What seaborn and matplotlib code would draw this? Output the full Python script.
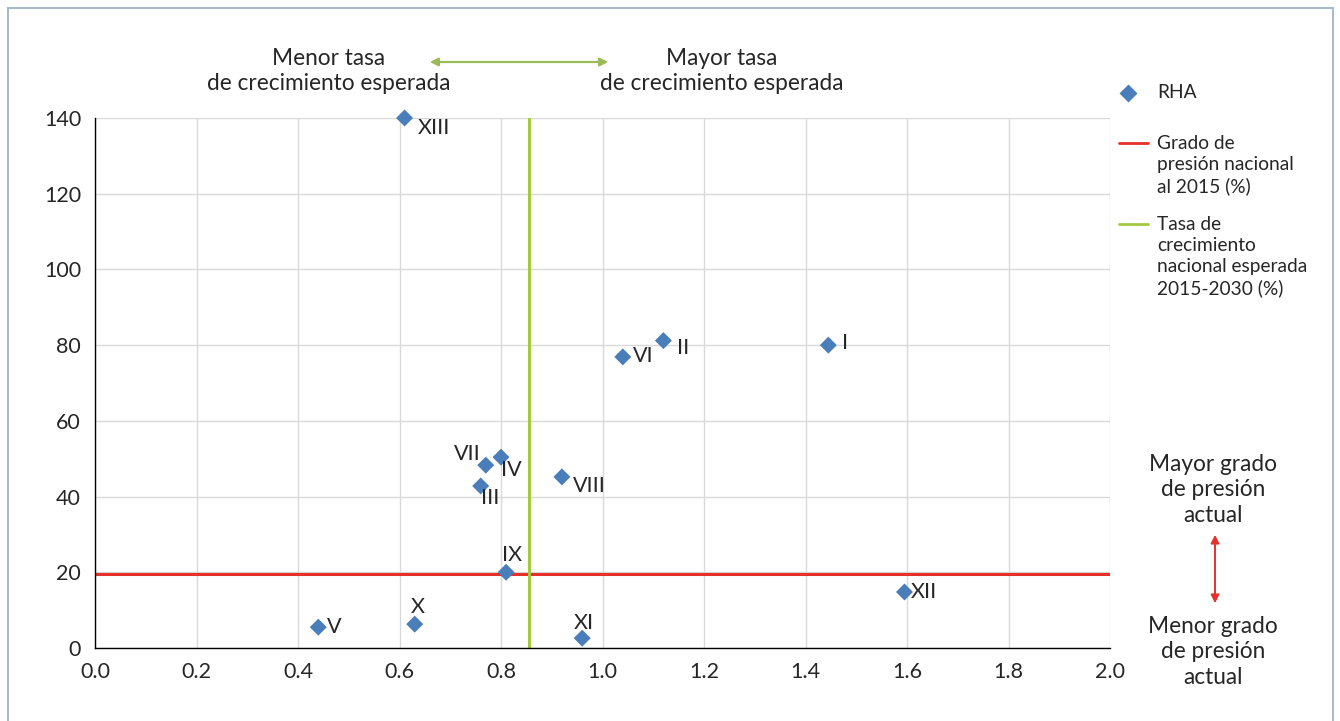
import numpy as np
import pandas as pd
import matplotlib
matplotlib.use("Agg")
import matplotlib.pyplot as plt
from matplotlib.lines import Line2D
from matplotlib.patches import Rectangle, FancyArrowPatch
import seaborn as sns

# ---- data ----
regions = ["I", "II", "III", "IV", "V", "VI", "VII", "VIII", "IX", "X", "XI", "XII", "XIII"]
growth = [1.445, 1.12, 0.76, 0.80, 0.44, 1.04, 0.77, 0.92, 0.81, 0.63, 0.96, 1.595, 0.61]
pressure = [80.0, 81.2, 42.8, 50.4, 5.5, 76.9, 48.3, 45.2, 20.0, 6.3, 2.6, 14.8, 140.0]
national_pressure = 19.5
national_growth = 0.855
x_ticks = [0.0, 0.2, 0.4, 0.6, 0.8, 1.0, 1.2, 1.4, 1.6, 1.8, 2.0]
y_ticks = [0, 20, 40, 60, 80, 100, 120, 140]

# label offsets in pixels (dx, dy upward), alignment
label_layout = {
    "I": (14, 2, "left"), "II": (14, -7, "left"), "III": (0, -12, "left"),
    "IV": (0, -13, "left"), "V": (9, 0, "left"), "VI": (10, 1, "left"),
    "VII": (-5, 11, "right"), "VIII": (11, -9, "left"), "IX": (6, 17, "center"),
    "X": (3, 17, "center"), "XI": (2, 15, "center"), "XII": (6, 0, "left"),
    "XIII": (13, -10, "left"),
}

W, H = 1340, 721
sns.set_style("white")
plt.rcParams['font.family'] = ['Lato', 'DejaVu Sans']

fig = plt.figure(figsize=(W / 100, H / 100), dpi=100)
ax = fig.add_axes([95 / W, 1 - 648 / H, (1110 - 95) / W, (648 - 118) / H])

def fx(px):
    return px / W

def fy(py):
    return 1 - py / H

TXT = "#262626"
df = pd.DataFrame({"region": regions, "growth": growth, "pressure": pressure})

ax.set_xlim(0, 2.0)
ax.set_ylim(0, 140)
ax.set_xticks(x_ticks)
ax.set_yticks(y_ticks)
ax.set_xticklabels([f"{v:.1f}" for v in x_ticks])
ax.set_yticklabels([str(v) for v in y_ticks])
ax.grid(True, color="#D9D9D9", lw=1.0, zorder=0)
ax.set_axisbelow(True)
for s in ["top", "right"]:
    ax.spines[s].set_visible(False)
for s in ["left", "bottom"]:
    ax.spines[s].set_color("black")
    ax.spines[s].set_linewidth(1.0)
ax.tick_params(axis="both", direction="out", length=6, width=1, color="black",
               labelsize=15.5, labelcolor=TXT, pad=4)

ax.axhline(national_pressure, color="#E8302A", lw=2.2, zorder=2)
ax.axvline(national_growth, color="#A3C940", lw=2.2, zorder=2)

sns.scatterplot(data=df, x="growth", y="pressure", ax=ax, marker="D", s=75,
                color="#4A7EBB", edgecolor="none", zorder=3, clip_on=False, legend=False)
ax.set_xlabel("")
ax.set_ylabel("")

for r, gx, py in zip(regions, growth, pressure):
    dx, dy, ha = label_layout[r]
    ax.annotate(r, (gx, py), xytext=(dx * 0.72, dy * 0.72), textcoords="offset points",
                ha=ha, va="center", fontsize=15.5, color=TXT)

# ---- manual legend ----
LFS = 13.8
fig.add_artist(Line2D([fx(1128)], [fy(93)], marker="D", markersize=9.5, color="#4A7EBB",
                      markeredgecolor="none", linestyle="none"))
fig.text(fx(1157), fy(93), "RHA", fontsize=LFS, color=TXT, va="center", ha="left")
fig.add_artist(Line2D([fx(1119), fx(1148)], [fy(143), fy(143)], color="#E8302A", lw=2))
fig.text(fx(1157), fy(135), "Grado de\npresión nacional\nal 2015 (%)", fontsize=LFS,
         color=TXT, va="top", ha="left", linespacing=1.28)
fig.add_artist(Line2D([fx(1119), fx(1148)], [fy(224), fy(224)], color="#A3C940", lw=2))
fig.text(fx(1157), fy(216), "Tasa de\ncrecimiento\nnacional esperada\n2015-2030 (%)", fontsize=LFS,
         color=TXT, va="top", ha="left", linespacing=1.28)

# ---- top annotations ----
AFS = 16.3
fig.text(fx(329), fy(71), "Menor tasa\nde crecimiento esperada", fontsize=AFS,
         color=TXT, ha="center", va="center", linespacing=1.29)
fig.text(fx(722), fy(71), "Mayor tasa\nde crecimiento esperada", fontsize=AFS,
         color=TXT, ha="center", va="center", linespacing=1.29)
fig.add_artist(FancyArrowPatch((fx(427), fy(62)), (fx(611), fy(62)),
               transform=fig.transFigure, arrowstyle="<|-|>", mutation_scale=12,
               color="#9BBB59", lw=1.6))

# ---- right annotations ----
fig.text(fx(1213), fy(490), "Mayor grado\nde presión\nactual", fontsize=AFS,
         color=TXT, ha="center", va="center", linespacing=1.29)
fig.text(fx(1213), fy(652), "Menor grado\nde presión\nactual", fontsize=AFS,
         color=TXT, ha="center", va="center", linespacing=1.29)
fig.add_artist(FancyArrowPatch((fx(1215), fy(532)), (fx(1215), fy(606)),
               transform=fig.transFigure, arrowstyle="<|-|>", mutation_scale=12,
               color="#E8302A", lw=1.4))

# ---- frame border ----
fig.add_artist(Rectangle((fx(8), fy(730)), fx(1333) - fx(8), fy(8) - fy(730),
                         transform=fig.transFigure, fill=False, edgecolor="#A9BACB", lw=1.5))

fig.savefig("out.png", dpi=100)
